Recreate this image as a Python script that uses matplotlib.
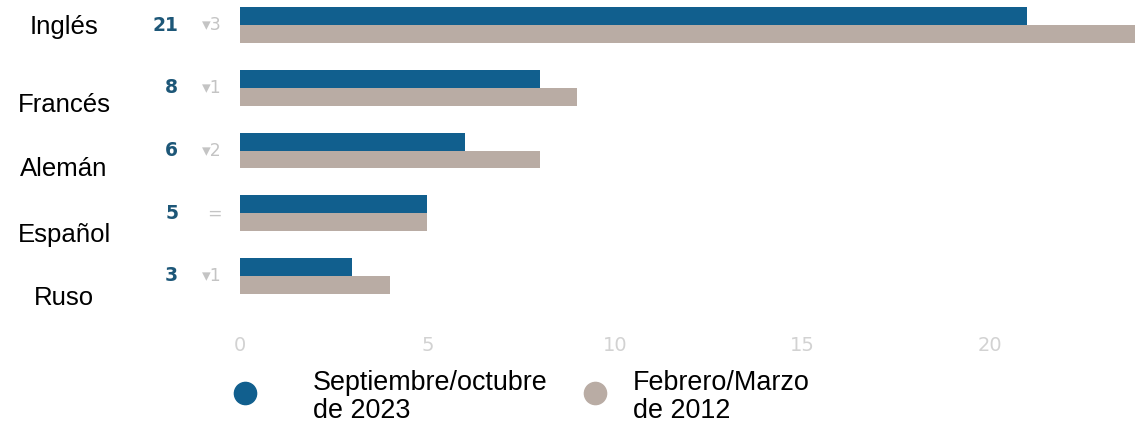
import numpy as np
import matplotlib.pyplot as plt
from matplotlib.lines import Line2D
from matplotlib.transforms import blended_transform_factory

idiomas = ['Inglés', 'Francés', 'Alemán', 'Español', 'Ruso']
sep_2023 = [21, 8, 6, 5, 3]
feb_2012 = [24, 9, 8, 5, 4]
cambio = ['▾3', '▾1', '▾2', '=', '▾1']
label_shift = [0.03, 0.27, 0.29, 0.35, 0.35]  # category labels sit a bit low in the original

azul = '#115f8e'
gris = '#b9aca4'

fig = plt.figure(figsize=(11.35, 4.26), dpi=100)
ax = fig.add_axes([240/1135, 1 - 318/426, 1 - 240/1135, 318/426])

y = np.arange(len(idiomas))
h = 0.286
ax.barh(y - h/2, sep_2023, height=h, color=azul)
ax.barh(y + h/2, feb_2012, height=h, color=gris)

ax.set_xlim(0, 23.87)
ax.set_ylim(4.67, -0.40)
ax.set_yticks([])
ax.set_xticks([0, 5, 10, 15, 20])
ax.tick_params(axis='x', length=0, pad=13, labelsize=14, labelcolor='#d2d2d2')
for s in ax.spines.values():
    s.set_visible(False)

tr = ax.get_yaxis_transform()
tr_fig = blended_transform_factory(fig.transFigure, ax.transData)
for i in range(len(idiomas)):
    ax.text(-0.069, y[i], str(sep_2023[i]), transform=tr, ha='right', va='center',
            fontsize=13.5, fontweight='bold', color='#1d5778', clip_on=False)
    ax.text(-0.02, y[i], cambio[i], transform=tr, ha='right', va='center',
            fontsize=12.5, color='#c4c4c4', clip_on=False)
    ax.text(64/1135, y[i] + label_shift[i], idiomas[i], transform=tr_fig, ha='center', va='center',
            fontsize=18.5, color='black', family='Liberation Sans', clip_on=False)

# legend drawn by hand to match the spacing
fig.add_artist(Line2D([245/1135], [1 - 393/426], marker='o', markersize=16,
                      color=azul, linestyle='none', transform=fig.transFigure))
fig.add_artist(Line2D([595/1135], [1 - 393/426], marker='o', markersize=16,
                      color=gris, linestyle='none', transform=fig.transFigure))
fig.text(313/1135, 1 - 397/426, 'Septiembre/octubre\nde 2023', ha='left', va='center',
         fontsize=19.4, family='Liberation Sans', linespacing=1.05)
fig.text(633/1135, 1 - 397/426, 'Febrero/Marzo\nde 2012', ha='left', va='center',
         fontsize=19.4, family='Liberation Sans', linespacing=1.05)

fig.savefig('out.png', dpi=100)
